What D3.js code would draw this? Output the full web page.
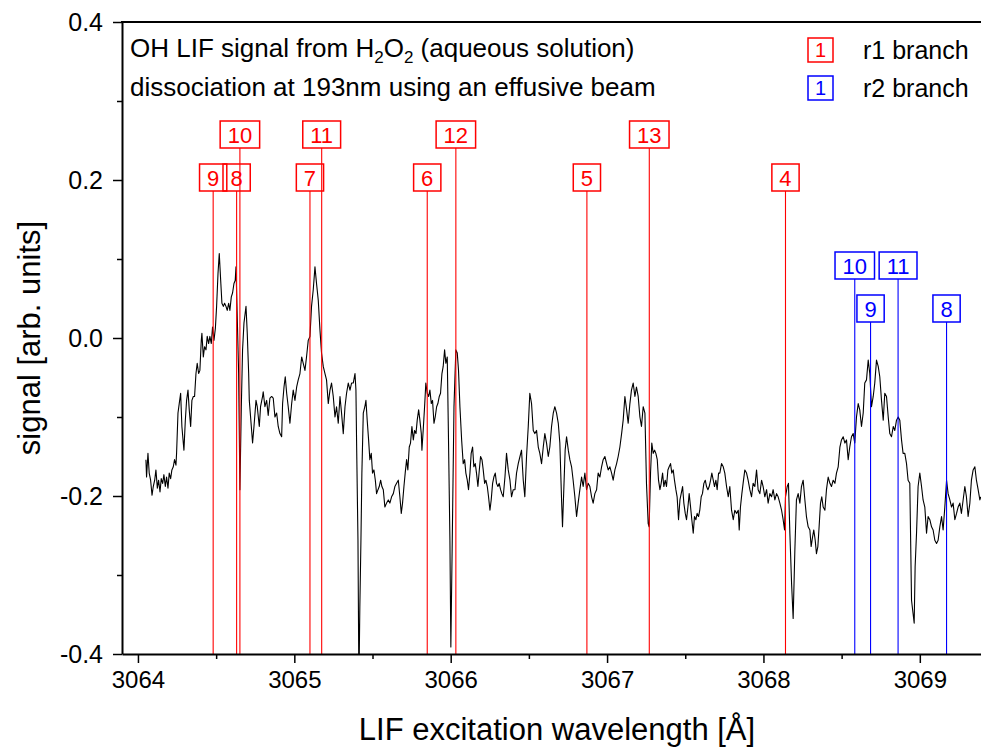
<!DOCTYPE html>
<html>
<head>
<meta charset="utf-8">
<script src="https://cdn.jsdelivr.net/npm/d3@7"></script>
<style>
  body { margin: 0; background: #fff; }
  svg { display: block; }
  text { font-family: "Liberation Sans", Arial, sans-serif; }
</style>
</head>
<body>
<svg id="chart" width="981" height="749"></svg>
<script>
// OH LIF scan: excitation wavelength (Å) and signal (arb. units)
const wavelength = [
  3064.051,3064.055,3064.064,3064.072,3064.081,3064.090,3064.098,3064.107,3064.115,3064.124,3064.132,3064.141,3064.149,3064.158,3064.166,3064.175,3064.183,3064.192,3064.200,3064.209,3064.217,3064.226,3064.234,3064.243,3064.247,3064.256,3064.264,3064.273,3064.281,3064.290,3064.294,3064.303,3064.311,3064.320,3064.328,3064.337,3064.345,3064.354,3064.362,3064.371,3064.379,3064.388,3064.396,3064.405,3064.409,3064.418,3064.426,3064.435,3064.443,3064.452,3064.460,3064.469,3064.477,3064.486,3064.495,3064.503,3064.512,3064.520,3064.529,3064.537,3064.546,3064.554,3064.563,3064.571,3064.580,3064.588,3064.597,3064.605,3064.614,3064.622,3064.627,3064.644,3064.652,3064.661,3064.669,3064.678,3064.691,3064.699,3064.708,3064.712,3064.725,3064.733,3064.742,3064.755,3064.763,3064.776,3064.784,3064.797,
  3064.801,3064.812,3064.823,3064.833,3064.844,3064.855,3064.865,3064.876,3064.887,3064.897,3064.908,3064.919,3064.925,3064.934,3064.942,3064.951,3064.961,3064.972,3064.983,3064.993,3065.004,3065.015,3065.025,3065.036,3065.047,3065.057,3065.068,3065.078,3065.089,3065.100,3065.110,3065.121,3065.132,3065.142,3065.153,3065.164,3065.174,3065.185,3065.196,3065.206,3065.217,3065.228,3065.238,3065.249,3065.260,3065.270,3065.281,3065.292,3065.302,3065.313,3065.324,3065.334,3065.345,3065.356,3065.366,3065.377,3065.388,3065.394,3065.398,3065.407,3065.413,3065.419,3065.426,3065.432,3065.441,3065.451,3065.458,3065.466,3065.475,3065.483,3065.492,3065.500,3065.509,3065.518,3065.526,3065.535,3065.543,3065.552,3065.560,3065.569,
  3065.579,3065.590,3065.601,3065.611,3065.622,3065.633,3065.643,3065.654,3065.665,3065.675,3065.684,3065.692,3065.701,3065.709,3065.718,3065.726,3065.735,3065.743,3065.752,3065.761,3065.769,3065.778,3065.786,3065.795,3065.803,3065.812,3065.816,3065.824,3065.833,3065.841,3065.850,3065.859,3065.867,3065.876,3065.884,3065.893,3065.901,3065.910,3065.918,3065.927,3065.935,3065.944,3065.952,3065.961,3065.969,3065.978,3065.986,3065.995,3066.001,3066.010,3066.021,3066.033,3066.042,3066.050,3066.059,3066.070,3066.080,3066.089,3066.097,3066.106,3066.114,3066.123,3066.131,3066.140,3066.148,3066.157,3066.165,3066.174,3066.183,3066.191,3066.200,3066.208,3066.217,3066.225,3066.234,3066.242,3066.251,3066.259,3066.268,3066.276,3066.285,3066.293,3066.302,3066.310,3066.319,3066.327,3066.336,
  3066.347,3066.357,3066.368,3066.379,3066.389,3066.400,3066.411,3066.421,3066.432,3066.443,3066.453,3066.464,3066.474,3066.485,3066.496,3066.506,3066.517,3066.528,3066.538,3066.549,3066.560,3066.570,3066.581,3066.592,3066.602,3066.613,3066.624,3066.634,3066.645,3066.656,3066.666,3066.677,3066.688,3066.698,3066.709,3066.715,3066.724,3066.732,3066.741,3066.752,3066.762,3066.773,3066.783,3066.794,3066.805,3066.815,3066.826,3066.837,3066.847,3066.858,3066.869,3066.879,3066.890,3066.901,3066.911,3066.922,3066.933,3066.943,3066.954,3066.965,3066.975,3066.986,3066.997,3067.007,3067.018,3067.029,3067.039,3067.050,3067.061,3067.071,3067.082,3067.093,3067.103,
  3067.114,3067.125,3067.135,3067.146,3067.156,3067.167,3067.178,3067.188,3067.199,3067.210,3067.220,3067.231,3067.242,3067.252,3067.263,3067.269,3067.278,3067.286,3067.295,3067.304,3067.312,3067.321,3067.329,3067.338,3067.346,3067.355,3067.363,3067.372,3067.380,3067.389,3067.397,3067.406,3067.414,3067.423,3067.431,3067.440,3067.448,3067.457,3067.466,3067.474,3067.483,3067.491,3067.500,3067.508,3067.517,3067.525,3067.534,3067.542,3067.551,3067.559,3067.568,3067.576,3067.585,3067.593,3067.602,3067.610,3067.619,3067.628,3067.636,3067.645,3067.653,3067.662,3067.670,3067.679,3067.687,3067.696,3067.704,3067.713,3067.721,3067.732,3067.743,3067.753,3067.764,3067.775,3067.785,3067.796,3067.807,3067.817,3067.828,3067.839,3067.845,3067.853,3067.862,3067.870,
  3067.881,3067.892,3067.902,3067.913,3067.924,3067.934,3067.945,3067.956,3067.966,3067.977,3067.988,3067.998,3068.009,3068.020,3068.030,3068.041,3068.052,3068.062,3068.073,3068.084,3068.094,3068.105,3068.116,3068.126,3068.135,3068.141,3068.152,3068.160,3068.169,3068.180,3068.190,3068.201,3068.211,3068.222,3068.233,3068.243,3068.254,3068.265,3068.275,3068.286,3068.297,3068.305,3068.314,3068.322,3068.331,3068.339,3068.348,3068.356,3068.365,3068.373,3068.382,3068.393,3068.403,3068.414,3068.425,3068.435,3068.446,3068.457,3068.467,3068.478,3068.489,3068.499,3068.510,3068.521,3068.531,3068.542,3068.552,3068.563,3068.574,3068.584,3068.595,3068.606,3068.616,
  3068.627,3068.638,3068.648,3068.659,3068.670,3068.680,3068.691,3068.702,3068.712,3068.723,3068.734,3068.744,3068.755,3068.766,3068.776,3068.787,3068.798,3068.808,3068.819,3068.830,3068.840,3068.851,3068.862,3068.872,3068.883,3068.893,3068.904,3068.915,3068.925,3068.936,3068.947,3068.957,3068.964,3068.970,3068.979,3068.989,3069.000,3069.011,3069.021,3069.032,3069.043,3069.053,3069.064,3069.075,3069.085,3069.096,3069.107,3069.117,3069.128,3069.139,3069.149,3069.160,3069.171,3069.181,3069.192,3069.203,3069.213,3069.224,3069.235,3069.245,3069.256,3069.266,3069.277,3069.288,3069.298,3069.309,3069.320,3069.330,3069.341,3069.352,3069.362,3069.373,3069.384,3069.390
];
const signal = [
  -0.154,-0.176,-0.146,-0.171,-0.180,-0.199,-0.188,-0.180,-0.167,-0.190,-0.180,-0.195,-0.178,-0.184,-0.173,-0.188,-0.176,-0.190,-0.171,-0.178,-0.167,-0.163,-0.154,-0.161,-0.146,-0.095,-0.083,-0.070,-0.112,-0.133,-0.142,-0.104,-0.079,-0.066,-0.091,-0.112,-0.079,-0.074,-0.074,-0.045,-0.032,-0.045,-0.041,-0.003,0.006,-0.024,-0.011,-0.015,0.002,-0.007,0.002,-0.007,0.014,-0.003,0.012,0.040,0.082,0.107,0.073,0.044,0.040,0.044,0.040,0.035,0.044,0.035,0.052,0.057,0.069,0.073,0.090,-0.045,-0.192,-0.087,-0.015,0.019,0.040,0.006,-0.045,-0.079,-0.112,-0.133,-0.112,-0.079,-0.087,-0.112,-0.087,-0.074,
  -0.068,-0.087,-0.079,-0.098,-0.076,-0.074,-0.076,-0.100,-0.095,-0.112,-0.121,-0.125,-0.083,-0.062,-0.049,-0.070,-0.087,-0.108,-0.083,-0.066,-0.079,-0.062,-0.053,-0.045,-0.024,-0.032,-0.041,-0.024,-0.003,0.002,0.040,0.061,0.090,0.069,0.048,0.010,-0.019,-0.036,-0.045,-0.053,-0.083,-0.066,-0.057,-0.074,-0.100,-0.087,-0.108,-0.074,-0.095,-0.121,-0.087,-0.070,-0.057,-0.066,-0.057,-0.057,-0.045,-0.066,-0.129,-0.256,-0.440,-0.340,-0.256,-0.171,-0.095,-0.087,-0.079,-0.104,-0.129,-0.154,-0.146,-0.171,-0.167,-0.180,-0.197,-0.192,-0.188,-0.180,-0.188,-0.192,
  -0.214,-0.209,-0.205,-0.209,-0.201,-0.197,-0.188,-0.184,-0.180,-0.201,-0.222,-0.209,-0.188,-0.171,-0.154,-0.167,-0.138,-0.133,-0.112,-0.129,-0.117,-0.121,-0.104,-0.091,-0.104,-0.121,-0.142,-0.117,-0.087,-0.057,-0.070,-0.074,-0.066,-0.083,-0.079,-0.108,-0.100,-0.087,-0.083,-0.074,-0.070,-0.045,-0.036,-0.015,-0.032,-0.024,-0.129,-0.256,-0.391,-0.256,-0.087,-0.015,-0.019,-0.041,-0.087,-0.129,-0.159,-0.154,-0.171,-0.180,-0.192,-0.171,-0.146,-0.138,-0.163,-0.159,-0.171,-0.188,-0.167,-0.150,-0.154,-0.167,-0.184,-0.180,-0.188,-0.201,-0.218,-0.205,-0.184,-0.176,-0.171,-0.184,-0.188,-0.184,-0.192,-0.197,-0.201,
  -0.176,-0.146,-0.167,-0.180,-0.201,-0.192,-0.192,-0.171,-0.159,-0.150,-0.142,-0.180,-0.201,-0.150,-0.112,-0.070,-0.083,-0.117,-0.121,-0.117,-0.138,-0.146,-0.159,-0.138,-0.121,-0.133,-0.150,-0.138,-0.112,-0.095,-0.087,-0.095,-0.108,-0.133,-0.205,-0.239,-0.188,-0.142,-0.125,-0.142,-0.154,-0.163,-0.180,-0.201,-0.226,-0.209,-0.192,-0.176,-0.188,-0.171,-0.192,-0.184,-0.188,-0.201,-0.209,-0.197,-0.192,-0.171,-0.176,-0.163,-0.154,-0.150,-0.159,-0.167,-0.163,-0.171,-0.180,-0.167,-0.159,-0.150,-0.138,-0.121,-0.104,
  -0.074,-0.091,-0.108,-0.083,-0.066,-0.057,-0.074,-0.062,-0.074,-0.100,-0.112,-0.087,-0.095,-0.184,-0.235,-0.239,-0.171,-0.133,-0.146,-0.142,-0.146,-0.154,-0.180,-0.192,-0.184,-0.171,-0.188,-0.180,-0.188,-0.167,-0.163,-0.159,-0.171,-0.167,-0.180,-0.192,-0.201,-0.230,-0.205,-0.197,-0.188,-0.209,-0.222,-0.230,-0.214,-0.197,-0.214,-0.230,-0.247,-0.226,-0.230,-0.222,-0.226,-0.218,-0.201,-0.197,-0.184,-0.180,-0.188,-0.192,-0.188,-0.180,-0.171,-0.180,-0.188,-0.180,-0.192,-0.171,-0.171,-0.159,-0.163,-0.171,-0.188,-0.201,-0.188,-0.218,-0.230,-0.218,-0.222,-0.218,-0.243,-0.214,-0.197,-0.184,
  -0.167,-0.171,-0.180,-0.192,-0.201,-0.184,-0.188,-0.167,-0.192,-0.197,-0.180,-0.188,-0.201,-0.192,-0.209,-0.197,-0.201,-0.192,-0.205,-0.197,-0.201,-0.209,-0.218,-0.230,-0.243,-0.201,-0.188,-0.184,-0.247,-0.311,-0.355,-0.268,-0.205,-0.197,-0.209,-0.188,-0.180,-0.205,-0.226,-0.239,-0.243,-0.264,-0.252,-0.243,-0.256,-0.273,-0.264,-0.239,-0.209,-0.201,-0.214,-0.218,-0.192,-0.176,-0.184,-0.188,-0.180,-0.184,-0.171,-0.163,-0.138,-0.129,-0.125,-0.133,-0.129,-0.154,-0.138,-0.125,-0.121,-0.133,-0.100,-0.083,-0.091,
  -0.112,-0.095,-0.057,-0.053,-0.028,-0.045,-0.087,-0.074,-0.057,-0.028,-0.036,-0.049,-0.079,-0.104,-0.070,-0.074,-0.100,-0.121,-0.125,-0.112,-0.117,-0.104,-0.100,-0.104,-0.129,-0.146,-0.146,-0.159,-0.180,-0.184,-0.332,-0.349,-0.361,-0.290,-0.247,-0.188,-0.171,-0.188,-0.205,-0.214,-0.247,-0.226,-0.230,-0.239,-0.243,-0.256,-0.260,-0.256,-0.239,-0.226,-0.243,-0.214,-0.180,-0.197,-0.205,-0.214,-0.209,-0.230,-0.222,-0.214,-0.209,-0.222,-0.205,-0.188,-0.201,-0.226,-0.209,-0.180,-0.167,-0.163,-0.180,-0.192,-0.205,-0.201
];

// Rotational line assignments (rotational quantum number, line position in Å, label tier)
const r1Numbers     = [9, 8, 10, 7, 11, 6, 12, 5, 13, 4];
const r1Wavelengths = [3064.481, 3064.631, 3064.652, 3065.100, 3065.175, 3065.850, 3066.033, 3066.871, 3067.270, 3068.141];
const r1Tier        = [2, 2, 1, 2, 1, 2, 1, 2, 1, 2];
const r2Numbers     = [10, 9, 11, 8];
const r2Wavelengths = [3068.584, 3068.685, 3068.861, 3069.171];
const r2Tier        = [1, 2, 1, 2];

const xMajorTicks = [3064, 3065, 3066, 3067, 3068, 3069];
const xMinorTicks = [3064.5, 3065.5, 3066.5, 3067.5, 3068.5];
const yMajorTicks = [-0.4, -0.2, 0.0, 0.2, 0.4];
const yTickLabels = ["-0.4", "-0.2", "0.0", "0.2", "0.4"];
const yMinorTicks = [-0.3, -0.1, 0.1, 0.3];

const titleLines = ["OH LIF signal from H2O2 (aqueous solution)", "dissociation at 193nm using an effusive beam"];
const legendItems = [{ label: "r1 branch", color: "#ff0000" }, { label: "r2 branch", color: "#0000ff" }];

const svg = d3.select("#chart");
const plot = { left: 122, top: 22, right: 998, bottom: 654 };

const x = d3.scaleLinear().domain([3063.898, 3069.5]).range([plot.left, plot.right]);
const y = d3.scaleLinear().domain([-0.4, 0.4]).range([plot.bottom, plot.top]);

svg.append("defs").append("clipPath").attr("id", "plotClip")
  .append("rect").attr("x", plot.left).attr("y", plot.top)
  .attr("width", plot.right - plot.left).attr("height", plot.bottom - plot.top);

// signal trace
const scan = wavelength.map((w, i) => [w, signal[i]]);
svg.append("path")
  .datum(scan)
  .attr("clip-path", "url(#plotClip)")
  .attr("fill", "none")
  .attr("stroke", "#000")
  .attr("stroke-width", 1.1)
  .attr("stroke-linejoin", "round")
  .attr("d", d3.line().x(d => x(d[0])).y(d => y(d[1])));

// line markers with numbered boxes
function drawBranch(numbers, positions, tiers, color, tierTops) {
  const g = svg.append("g");
  numbers.forEach((n, i) => {
    const cx = x(positions[i]);
    const top = tierTops[tiers[i] - 1];
    const boxH = 27;
    const t = g.append("text")
      .attr("x", cx).attr("y", top + 21.5)
      .attr("text-anchor", "middle")
      .attr("font-size", 22)
      .attr("fill", color)
      .text(n);
    const bw = t.node().getComputedTextLength() + 15;
    g.insert("rect", "text")
      .attr("x", cx - bw / 2).attr("y", top)
      .attr("width", bw).attr("height", boxH)
      .attr("fill", "none")
      .attr("stroke", color)
      .attr("stroke-width", 1.5);
    g.append("line")
      .attr("x1", cx).attr("x2", cx)
      .attr("y1", top + boxH).attr("y2", plot.bottom)
      .attr("stroke", color)
      .attr("stroke-width", 1.1);
  });
}
drawBranch(r1Numbers, r1Wavelengths, r1Tier, "#ff0000", [121, 164]);
drawBranch(r2Numbers, r2Wavelengths, r2Tier, "#0000ff", [252, 295]);

// axes
const axisColor = "#000";
svg.append("g").attr("transform", `translate(0,${plot.bottom})`)
  .call(d3.axisBottom(x).tickValues(xMajorTicks).tickSize(9).tickSizeOuter(0).tickPadding(8).tickFormat(d3.format("d")));
svg.append("g").attr("transform", `translate(0,${plot.bottom})`)
  .call(d3.axisBottom(x).tickValues(xMinorTicks).tickSize(5).tickSizeOuter(0).tickFormat(""))
  .select(".domain").remove();

const yAxis = svg.append("g").attr("transform", `translate(${plot.left},0)`)
  .call(d3.axisLeft(y).tickValues(yMajorTicks).tickSize(9).tickSizeOuter(0).tickPadding(10)
    .tickFormat((d, i) => yTickLabels[i]));
svg.append("g").attr("transform", `translate(${plot.left},0)`)
  .call(d3.axisLeft(y).tickValues(yMinorTicks).tickSize(5).tickSizeOuter(0).tickFormat(""))
  .select(".domain").remove();

svg.selectAll(".domain").attr("stroke", axisColor).attr("stroke-width", 2);
svg.selectAll(".tick line").attr("stroke", axisColor).attr("stroke-width", 1.5);
svg.selectAll(".tick text")
  .attr("font-family", '"Liberation Sans", Arial, sans-serif')
  .attr("font-size", 24)
  .attr("fill", "#000");
yAxis.selectAll(".tick text").attr("font-size", 25);

// top frame line
svg.append("line")
  .attr("x1", plot.left - 1).attr("x2", plot.right)
  .attr("y1", plot.top).attr("y2", plot.top)
  .attr("stroke", axisColor).attr("stroke-width", 2);

// annotation text
const note = svg.append("g").attr("font-size", 26).attr("fill", "#000");
const l1 = note.append("text").attr("x", 130).attr("y", 57);
l1.append("tspan").text("OH LIF signal from H");
l1.append("tspan").attr("font-size", 17).attr("dy", 6).text("2");
l1.append("tspan").attr("dy", -6).text("O");
l1.append("tspan").attr("font-size", 17).attr("dy", 6).text("2");
l1.append("tspan").attr("dy", -6).text(" (aqueous solution)");
note.append("text").attr("x", 130).attr("y", 96).text(titleLines[1]);

// legend
legendItems.forEach((item, i) => {
  const top = 38 + i * 38;
  svg.append("rect")
    .attr("x", 808).attr("y", top).attr("width", 25).attr("height", 24)
    .attr("fill", "none").attr("stroke", item.color).attr("stroke-width", 1.5);
  svg.append("text")
    .attr("x", 820.5).attr("y", top + 19)
    .attr("text-anchor", "middle").attr("font-size", 20)
    .attr("fill", item.color).text("1");
  svg.append("text")
    .attr("x", 863).attr("y", top + 21)
    .attr("font-size", 25).attr("fill", "#000").text(item.label);
});

// axis titles
svg.append("text")
  .attr("x", 557).attr("y", 740)
  .attr("text-anchor", "middle").attr("font-size", 31)
  .text("LIF excitation wavelength [Å]");
svg.append("text")
  .attr("transform", "translate(40,338) rotate(-90)")
  .attr("text-anchor", "middle").attr("font-size", 31)
  .text("signal [arb. units]");
</script>
</body>
</html>
